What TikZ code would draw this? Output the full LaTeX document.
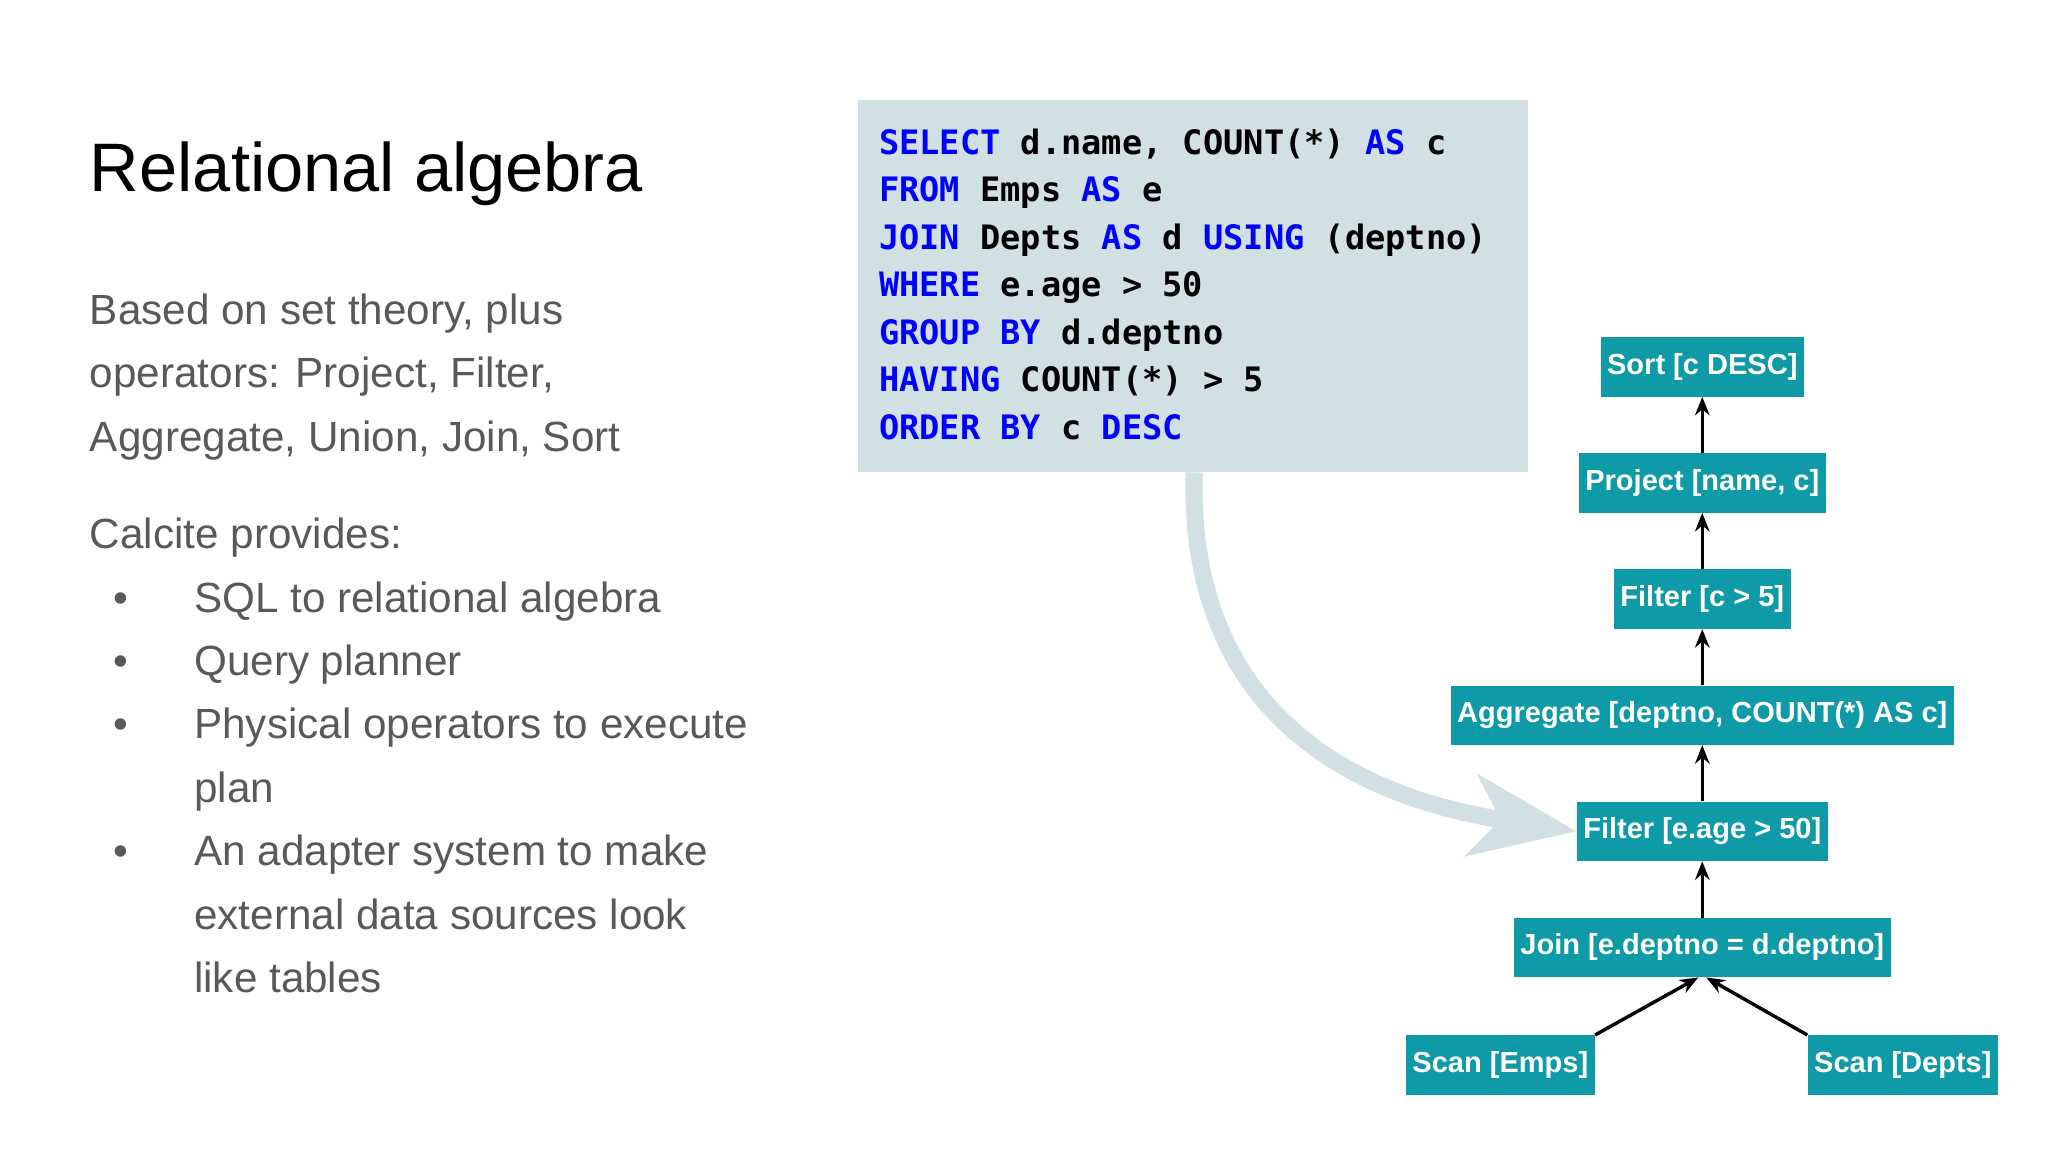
\documentclass[tikz,border=0pt]{standalone}
\usepackage{fontspec}
\setmainfont{Liberation Sans}
\newfontfamily\codefont{DejaVu Sans Mono}
\usetikzlibrary{arrows.meta}
\definecolor{teal}{HTML}{0E9AA7}
\definecolor{codebg}{HTML}{D0E0E3}
\definecolor{bodygrey}{HTML}{595959}
\definecolor{kw}{HTML}{0000FF}
\begin{document}
\begin{tikzpicture}[x=1pt,y=-1pt,
  op/.style={fill=teal,text=white,font=\fontsize{22}{26}\selectfont\bfseries,minimum height=45pt,inner xsep=5pt},
  arr/.style={-{Stealth[length=14pt,width=11pt]},line width=2.6pt,black},
  body/.style={anchor=base west,text=bodygrey,font=\fontsize{32}{38}\selectfont,inner sep=0pt},
  code/.style={anchor=base west,font=\codefont\bfseries\fontsize{25.5}{30}\selectfont,inner sep=0pt}]
\useasboundingbox (0,0) rectangle (1552,873);
\fill[white] (0,0) rectangle (1552,873);
\node[anchor=base west,inner sep=0pt,font=\fontsize{52}{60}\selectfont] (title) at (68,145) {Relational algebra};
\node[body] (l1) at (68,246) {Based on set theory, plus};
\node[body] (l2) at (68,294) {operators: Project, Filter,};
\node[body] (l3) at (68,342) {Aggregate, Union, Join, Sort};
\node[body] (l4) at (68,416) {Calcite provides:};
\foreach \y/\t in {464/SQL to relational algebra,512/Query planner,560/Physical operators to execute,656/An adapter system to make}{
  \node[body] at (86,\y) {\textbullet};
  \node[body] at (147,\y) {\t};}
\node[body] (c1) at (147,608) {plan};
\node[body] (c2) at (147,704) {external data sources look};
\node[body] (c3) at (147,752) {like tables};
% code box
\fill[codebg] (650,76) rectangle (1158,358);
\node[code] at (666,117) {\textcolor{kw}{SELECT} d.name, COUNT(*) \textcolor{kw}{AS} c};
\node[code] at (666,153) {\textcolor{kw}{FROM} Emps \textcolor{kw}{AS} e};
\node[code] at (666,189) {\textcolor{kw}{JOIN} Depts \textcolor{kw}{AS} d \textcolor{kw}{USING} (deptno)};
\node[code] at (666,225) {\textcolor{kw}{WHERE} e.age > 50};
\node[code] at (666,261) {\textcolor{kw}{GROUP BY} d.deptno};
\node[code] at (666,297) {\textcolor{kw}{HAVING} COUNT(*) > 5};
\node[code] at (666,333) {\textcolor{kw}{ORDER BY} c \textcolor{kw}{DESC}};
% tree
\node[op] (sort) at (1290,278) {Sort [c DESC]};
\node[op] (proj) at (1290,366) {Project [name, c]};
\node[op] (f1) at (1290,454) {Filter [c > 5]};
\node[op] (agg) at (1290,542) {Aggregate [deptno, COUNT(*) AS c]};
\node[op] (f2) at (1290,630) {Filter [e.age > 50]};
\node[op] (join) at (1290,718) {Join [e.deptno = d.deptno]};
\node[op] (se) at (1137,807) {Scan [Emps]};
\node[op] (sd) at (1442,807) {Scan [Depts]};
\draw[arr] (proj) -- (sort);
\draw[arr] (f1) -- (proj);
\draw[arr] (agg) -- (f1);
\draw[arr] (f2) -- (agg);
\draw[arr] (join) -- (f2);
\draw[arr] (se.north east) -- ([xshift=-3pt]join.south);
\draw[arr] (sd.north west) -- ([xshift=3pt]join.south);
% big arrow
\coordinate (cs) at (905,358);
\draw[codebg,line width=13pt,-{Stealth[length=80pt,width=62pt,inset=22pt]}] (cs) .. controls (900,520) and (1000,600) .. (f2.west);
\end{tikzpicture}
\end{document}
